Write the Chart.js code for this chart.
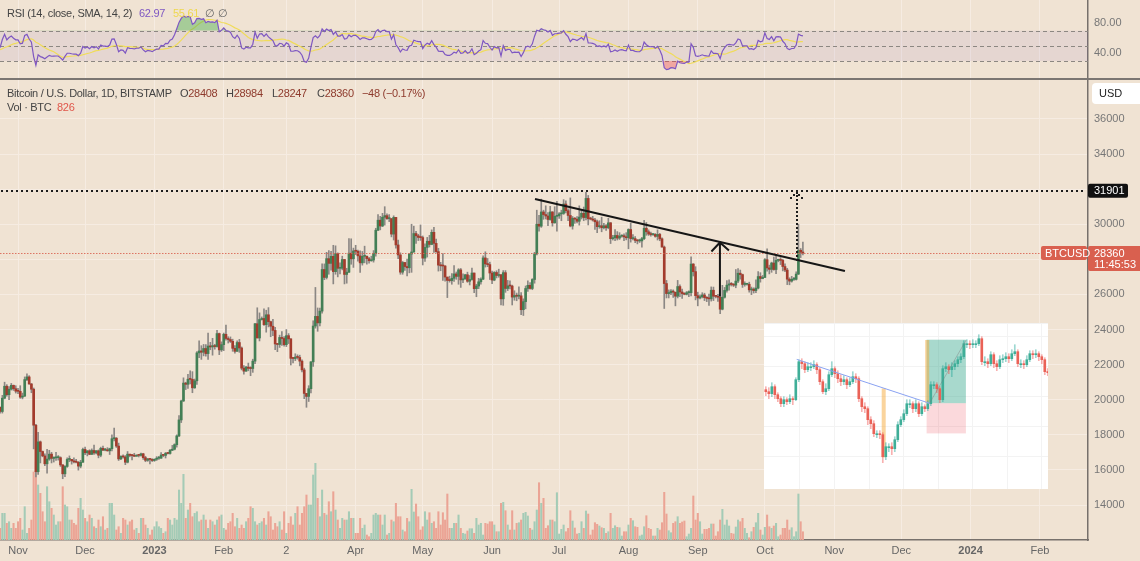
<!DOCTYPE html>
<html>
<head>
<meta charset="utf-8">
<script src="https://cdn.jsdelivr.net/npm/chart.js@4.4.1/dist/chart.umd.min.js"></script>
<style>
  html, body { margin: 0; padding: 0; background: #f0e3d3; }
  #wrap { position: relative; width: 1140px; height: 561px; overflow: hidden; background: #f0e3d3;
          font-family: "Liberation Sans", Arial, sans-serif; }
  canvas { position: absolute; left: 0; }
  #rsi { top: 0; }
  #main { top: 80px; }
  #inset { left: 764px; top: 323px; background: #fff; }
  #sep { position: absolute; left: 0; top: 78px; width: 1140px; height: 2px; background: #7b7672; }
  .lg { position: absolute; font-size: 11px; letter-spacing: -0.3px; color: #444; white-space: pre; line-height: 14px; }
</style>
</head>
<body>
<div id="wrap">
  <canvas id="rsi" width="1140" height="78"></canvas>
  <div id="sep"></div>
  <canvas id="main" width="1140" height="481"></canvas>
  <canvas id="inset" width="284" height="166"></canvas>

  <span class="lg" style="left:7px;top:6px">RSI (14, close, SMA, 14, 2)</span>
  <span class="lg" style="left:139px;top:6px;color:#7e57c2">62.97</span>
  <span class="lg" style="left:173px;top:6px;color:#eed84e">55.61</span>
  <span class="lg" style="left:205px;top:6px;color:#666">∅</span>
  <span class="lg" style="left:218px;top:6px;color:#666">∅</span>

  <span class="lg" style="left:7px;top:86px">Bitcoin / U.S. Dollar, 1D, BITSTAMP</span>
  <span class="lg" style="left:180px;top:86px"><span style="color:#444">O</span><span style="color:#8e3a2c">28408</span></span>
  <span class="lg" style="left:226px;top:86px"><span style="color:#444">H</span><span style="color:#8e3a2c">28984</span></span>
  <span class="lg" style="left:272px;top:86px"><span style="color:#444">L</span><span style="color:#8e3a2c">28247</span></span>
  <span class="lg" style="left:317px;top:86px"><span style="color:#444">C</span><span style="color:#8e3a2c">28360</span></span>
  <span class="lg" style="left:362px;top:86px;color:#8e3a2c">−48 (−0.17%)</span>
  <span class="lg" style="left:7px;top:100px">Vol · BTC</span>
  <span class="lg" style="left:57px;top:100px;color:#e0564a">826</span>
</div>

<script>
// ---- daily BTC/USD (Bitstamp), day 0 = 1 Nov 2022, first visible candle = 24 Oct 2022 ----
const firstDay = -8;

// closes before the visible window, only used to seed the RSI
const priorCloses = [20110, 19420, 19540, 18880, 18490, 19410, 19290, 18920, 18800, 19220, 19080, 19410, 19590, 19420,
  19310, 19050, 19630, 20340, 20160, 19960, 19530, 19420, 19440, 19130, 19060, 19160, 19380, 19180, 19070, 19270,
  19550, 19330, 19120, 19040, 19170, 19210, 19570];

const closes = [
  19330, 20090, 20770, 20290, 20600, 20820, 20630, 20490,
  20480, 20150, 20210, 21150, 21300, 20900, 20600, 18550, 15900, 17600, 17050, 16800, 16350, 16620, 16900, 16660, 16690, 16700, 16700, 16290, 15780, 16200, 16600, 16600, 16520, 16460, 16440, 16220, 16440, 17170,
  16980, 17090, 16890, 17110, 16970, 17090, 16840, 17230, 17130, 17130, 17090, 17210, 17780, 17810, 17360, 16630, 16780, 16740, 16440, 16900, 16830, 16820, 16780, 16840, 16830, 16920, 16700, 16550, 16630, 16600, 16540,
  16610, 16670, 16670, 16850, 16830, 16950, 16940, 17120, 17180, 17440, 17940, 18850, 19930, 20950, 20880, 21170, 21160, 20680, 21080, 22670, 22780, 22710, 22920, 22630, 23060, 23010, 23080, 23030, 23770, 22840, 23140,
  23730, 23490, 23430, 23330, 22930, 22760, 23260, 22950, 21800, 21630, 21860, 21790, 21780, 22200, 24330, 23520, 24570, 24630, 24280, 24840, 24450, 24190, 23950, 23180, 23150, 23550, 23490, 23140,
  23650, 23470, 22360, 22350, 22430, 22410, 22200, 21700, 20360, 20190, 20630, 22160, 24200, 24750, 24380, 25050, 27420, 26970, 28040, 27770, 28170, 27300, 28320, 27490, 27490, 27990, 27140, 27270, 28350, 28030, 28480,
  28460, 28200, 27800, 28170, 28170, 28040, 27920, 27960, 28330, 29660, 30230, 29900, 30400, 30490, 30320, 30320, 29440, 30390, 28820, 28250, 27270, 27820, 27590, 27520, 28300, 28420, 29470, 29340, 29250, 29240,
  28070, 28680, 29030, 28850, 29540, 28910, 28440, 27670, 27630, 27620, 26990, 26800, 26790, 26920, 27170, 27030, 27400, 26830, 26890, 27120, 26750, 26850, 27220, 26330, 26480, 26720, 26870, 28080, 27740, 27700, 27220,
  26820, 27250, 27080, 27120, 25750, 27240, 26340, 26490, 26480, 25850, 25940, 25900, 25920, 25130, 25590, 26340, 26520, 26340, 26850, 28310, 30000, 29890, 30700, 30550, 30470, 30270, 30700, 30080, 30450, 30480,
  30590, 30620, 31150, 30770, 30500, 29900, 30340, 30290, 30170, 30410, 30620, 30380, 31470, 30310, 30300, 30240, 30140, 29860, 29910, 29800, 29910, 29800, 30080, 29180, 29230, 29360, 29210, 29320, 29350, 29280, 29230,
  29700, 29180, 29180, 29080, 29050, 29050, 29180, 29770, 29570, 29440, 29410, 29420, 29310, 29420, 29170, 28700, 26620, 26050, 26090, 26190, 26130, 25900, 26450, 26140, 26050, 26010, 26100, 26100, 27730, 27300, 25930,
  25800, 25870, 25970, 25820, 25780, 25750, 26240, 25900, 25890, 25840, 25160, 25840, 26230, 26530, 26600, 26570, 26530, 26760, 27210, 27130, 26570, 26580, 26580, 26260, 26300, 26220, 26360, 27020, 26910, 26970,
  27980, 27510, 27430, 27790, 27420, 27940, 27970, 27940, 27590, 27390, 26870, 26760, 26860, 26860, 27160, 28520, 28408, 28360
];

const highs = [
  19600, 20250, 21000, 20860, 20750, 20930, 20840, 20800,
  20650, 20800, 20380, 21300, 21470, 21370, 20930, 20670, 18600, 18150, 17650, 17080, 16920, 17180, 17120, 17000, 16750, 17000, 16820, 16750, 16300, 16250, 16690, 16800, 16600, 16690, 16600, 16480, 16550, 17250,
  17310, 17100, 17150, 17200, 17420, 17110, 17140, 17300, 17360, 17230, 17270, 17240, 18000, 18380, 17850, 17530, 16800, 16860, 16820, 17050, 16900, 16870, 16950, 16870, 16860, 16960, 16950, 16780, 16660, 16640, 16640,
  16630, 16760, 16770, 16990, 16880, 17000, 16970, 17180, 17400, 17490, 18000, 19100, 19980, 21250, 21000, 21450, 21650, 21600, 21180, 22750, 23360, 23080, 23150, 23140, 23800, 23270, 23500, 23160, 23950, 23800, 23300,
  23800, 24250, 23590, 23580, 23450, 23080, 23360, 23440, 23010, 21940, 21900, 22090, 21880, 22310, 24350, 25240, 24950, 24720, 25180, 25100, 25250, 24480, 24580, 24120, 23210, 23680, 23880, 23600,
  24000, 23770, 23480, 22420, 22620, 22560, 22540, 22270, 21800, 20360, 20800, 22180, 24500, 26400, 25230, 25220, 27750, 27740, 28400, 28500, 28450, 28800, 28770, 28370, 27800, 28180, 28000, 27490, 29180, 29170, 28640,
  28800, 28530, 28480, 28450, 28750, 28200, 28110, 28180, 28500, 29770, 30550, 30450, 30620, 31000, 30590, 30550, 30320, 30480, 30400, 29100, 28370, 27880, 27830, 28020, 28330, 30000, 29890, 29600, 29430, 29960,
  29330, 28880, 29250, 29370, 29680, 29820, 29150, 28630, 27830, 28330, 27650, 26990, 27040, 27190, 27650, 27280, 27470, 27480, 27170, 27150, 27270, 27080, 27500, 27220, 26580, 26920, 26940, 28200, 28430, 28050, 27840,
  27330, 27300, 27350, 27440, 27140, 27360, 27360, 26800, 26780, 26530, 26210, 26080, 26440, 26100, 25750, 26480, 26780, 26680, 26900, 28400, 30800, 30510, 31430, 30800, 31050, 30660, 31020, 30720, 31000, 31300,
  30660, 30800, 31400, 31330, 30880, 31500, 30440, 30380, 30440, 31050, 30800, 30980, 31820, 31640, 30400, 30450, 30340, 30240, 30200, 30400, 30050, 29980, 30340, 30100, 29370, 29700, 29580, 29520, 29400, 29460, 29520,
  29740, 30060, 29410, 29300, 29120, 29150, 29250, 30220, 30100, 29680, 29550, 29470, 29470, 29680, 29480, 29220, 28760, 26800, 26260, 26270, 26260, 26130, 26800, 26550, 26300, 26100, 26170, 26210, 28140, 27760, 27580,
  26130, 25980, 26100, 26070, 25880, 26020, 26430, 26420, 25950, 26000, 25880, 26520, 26400, 26790, 26830, 26680, 26620, 27420, 27480, 27390, 27160, 26720, 26640, 26700, 26420, 26380, 26830, 27300, 27240, 27080,
  28050, 28600, 27670, 27840, 28130, 28270, 28010, 28100, 28000, 27750, 27490, 26950, 27030, 26970, 27290, 30000, 28620, 28984
];

const lows = [
  19240, 19240, 20050, 20200, 20000, 20550, 20530, 20380,
  20350, 20080, 20050, 20180, 21080, 20880, 20400, 17200, 15600, 15750, 16400, 16750, 16250, 15820, 16550, 16400, 16450, 16550, 16560, 16200, 15500, 15620, 16150, 16470, 16330, 16400, 16400, 15990, 16120, 16430,
  16870, 16800, 16870, 16880, 16880, 16910, 16690, 16750, 17100, 17090, 17070, 16880, 17080, 17660, 17280, 16540, 16580, 16670, 16300, 16400, 16750, 16570, 16760, 16780, 16740, 16790, 16600, 16470, 16490, 16340, 16480,
  16490, 16540, 16600, 16650, 16750, 16680, 16910, 16900, 17100, 17140, 17300, 17900, 18700, 19900, 20580, 20650, 20900, 20400, 20650, 20870, 22400, 22300, 22500, 22480, 22300, 22850, 22540, 22880, 23000, 22570, 22750,
  22800, 23400, 23230, 23260, 22760, 22660, 22750, 22700, 21700, 21460, 21620, 21650, 21370, 21560, 22050, 23520, 23350, 24540, 24230, 23850, 24150, 23590, 23650, 22850, 22740, 22980, 23100, 23050,
  23030, 23200, 21980, 22100, 22230, 22310, 21930, 21580, 20060, 19570, 19900, 20390, 21900, 24080, 23900, 24200, 24930, 26840, 26880, 27150, 27380, 26600, 27150, 27000, 27170, 27400, 26600, 26640, 27240, 27720, 27540,
  28270, 27890, 27260, 27670, 27800, 27720, 27780, 27890, 27840, 28180, 29630, 29680, 29860, 29950, 30270, 30150, 29280, 29100, 28630, 28040, 27150, 27150, 27370, 27050, 27230, 27260, 28400, 28900, 29070, 29080,
  27680, 27880, 28130, 28700, 28830, 28400, 28390, 27330, 27350, 26800, 26750, 25820, 26700, 26580, 26740, 26860, 26580, 26400, 26670, 26860, 26690, 26540, 26820, 26100, 25870, 26330, 26580, 26840, 27560, 27580, 26850,
  26620, 26780, 26940, 26980, 25400, 25380, 26120, 26220, 26320, 25400, 25670, 25640, 25750, 24850, 24800, 25180, 26170, 26300, 26270, 26640, 28250, 29600, 29820, 30280, 30300, 29920, 30230, 29890, 30060, 29600,
  30330, 30200, 30560, 30640, 30200, 29850, 29720, 30050, 30070, 29950, 30300, 30200, 30250, 29960, 30250, 30180, 29700, 29520, 29770, 29570, 29730, 29650, 29740, 28900, 29100, 29070, 29100, 29130, 29260, 29060, 29110,
  28600, 28980, 29100, 28950, 28880, 28960, 28700, 29120, 29370, 29360, 29320, 29360, 29260, 29100, 29060, 28700, 25200, 25800, 25800, 25980, 25830, 25350, 25800, 25880, 25780, 25980, 25970, 25880, 25920, 27050, 25690,
  25350, 25740, 25800, 25650, 25590, 25380, 25620, 25650, 25800, 25600, 24900, 25120, 25790, 26130, 26250, 26480, 26450, 26380, 26670, 26870, 26400, 26470, 26530, 26130, 25990, 26080, 26100, 26320, 26700, 26890,
  26950, 27330, 27170, 27260, 27380, 27180, 27860, 27700, 27340, 27300, 26560, 26550, 26700, 26800, 26820, 27130, 28100, 28247
];

const volumes = [
  1170, 2670, 2670, 1670, 1830, 1170, 1670, 1170,
  1830, 2170, 1000, 3330, 670, 1170, 2000, 6800, 7800, 5500,
  4670, 2830, 1830, 5330, 3830, 3170, 2500, 1500, 1830, 1830,
  5330, 3500, 3330, 2000, 2000, 1670, 1500, 3170, 4170, 3000,
  2170, 1830, 2500, 2170, 1330, 1170, 2000, 1330, 2330, 1000,
  1170, 3670, 3670, 2500, 1000, 1330, 670, 2170, 2000, 1500,
  1830, 2000, 1000, 1170, 670, 2170, 2170, 1500, 1170, 500,
  1000, 1330, 1830, 1330, 1170, 670, 830, 2170, 2000, 1500,
  2170, 2000, 5000, 3670, 6570, 2170, 3000, 3670, 2330, 2670,
  2830, 1830, 2000, 2500, 2000, 1170, 2000, 1830, 1500, 2000,
  2330, 2500, 1170, 1000, 1670, 1830, 2670, 1330, 2170, 1170,
  1500, 1170, 1830, 2170, 3330, 3170, 1830, 1500, 1670, 1830,
  2170, 1500, 2830, 2330, 1000, 1670, 1330, 1830, 1000, 2830,
  670, 1670, 2330, 1500, 2670, 3330, 1500, 2670, 3330, 4500,
  3500, 3500, 6500, 7670, 4170, 2330, 5000, 2670, 2500, 3830,
  2830, 4830, 3000, 2000, 1170, 2170, 2000, 2000, 2830, 2170,
  2170, 670, 670, 2170, 1170, 1500, 500, 330, 670, 2500, 2670, 2500,
  2500, 1500, 2500, 500, 670, 2000, 1830, 3670, 2330, 2330, 1000, 830, 2170, 1830, 5070, 2800,
  3600, 2330, 1000, 1330, 2830, 2000, 2730, 1670, 1830, 1170, 2830, 1500, 2730, 2000, 4600, 1170, 1170, 1670, 1670, 2500, 1170, 670, 600, 900,
  1130, 1130, 670, 2170, 1500, 1670, 500, 1670, 1600, 1830, 1830, 1500, 830, 830, 3670, 3770, 2930, 1500, 1000, 2930, 1000, 1670, 1730, 2000,
  2670, 2770, 2400, 1170, 1000, 1830, 3000, 5730, 3670, 4170, 1170, 1430, 2000, 2000, 1830, 4730, 600, 1070, 1500, 830, 1170, 2930, 1900, 1200,
  600, 670, 1830, 1170, 2900, 2600, 500, 1000, 1730, 1570, 1400, 1230, 1170, 670, 830, 2670, 1170, 1430, 1270, 1230, 400, 830, 830, 1500,
  2170, 1930, 1330, 1270, 400, 500, 1330, 2430, 1170, 1070, 400, 400, 1170, 1000, 1730, 4770, 2600, 930, 730, 1670, 1830, 2330, 1670, 1800,
  1900, 330, 600, 1170, 4400, 2000, 2670, 1830, 600, 1070, 1070, 1170, 1600, 1600, 400, 830, 2000, 3070, 1500, 2000, 1400, 670, 600, 1300,
  2000, 1830, 2170, 1170, 670, 230, 830, 1270, 1730, 2670, 1000, 500, 1270, 2500, 1330, 1170, 1400, 1670, 330, 500, 1170, 1170, 2000, 1000, 1230, 330, 830, 4600, 1830, 826
];

// axis ticks
const tickDays = [0, 30, 61, 92, 120, 151, 181, 212, 242, 273, 304, 334, 365, 395, 426, 457];
const tickLabels = ['Nov', 'Dec', '2023', 'Feb', '2', 'Apr', 'May', 'Jun', 'Jul', 'Aug', 'Sep', 'Oct', 'Nov', 'Dec', '2024', 'Feb'];
const priceTicks = [14000, 16000, 18000, 20000, 22000, 24000, 26000, 28000, 30000, 32000, 34000, 36000];
const rsiTicks = [40, 80];
const rsiLevels = [70, 50, 30];

// drawings on the price pane, as [day, price]
const targetLevel = 31901;
const trendLine = [[231.2, 31440], [369.8, 27340]];
const moveArrow = [[313.9, 25880], [313.9, 28960]];
const targetArrow = [[348.2, 27970], [348.2, 31800]];

// inset picture (unitless price levels)
const insetOpen0 = 97;
const insetCloses = [95, 93, 100, 92, 88, 83, 87, 85, 88, 87, 107, 125, 123, 117, 120, 120, 122, 117, 105, 95,
  98, 112, 118, 113, 108, 105, 107, 102, 105, 110, 108, 88, 80, 78, 67, 63, 53, 53, 52, 30,
  40, 40, 38, 47, 62, 67, 73, 83, 83, 78, 83, 73, 80, 78, 83, 102, 102, 98, 87, 118,
  120, 117, 120, 123, 127, 130, 143, 143, 142, 143, 143, 148, 125, 125, 123, 132, 123, 120, 127, 128,
  130, 128, 133, 135, 123, 123, 122, 127, 133, 132, 133, 130, 127, 115, 114];
const insetHighs = [100, 99, 104, 102, 94, 90, 90, 89, 92, 90, 109, 127, 128, 125, 124, 124, 126, 124, 119, 107,
  103, 115, 125, 120, 116, 112, 111, 109, 109, 115, 113, 110, 90, 84, 80, 70, 66, 56, 56, 54,
  44, 43, 44, 50, 65, 70, 77, 87, 87, 85, 87, 85, 84, 82, 86, 105, 105, 104, 100, 121,
  124, 122, 124, 126, 130, 133, 146, 147, 146, 147, 146, 152, 150, 130, 128, 135, 134, 126, 131, 132,
  134, 133, 137, 142, 137, 127, 126, 131, 136, 136, 137, 135, 132, 129, 118];
const insetLows = [91, 88, 90, 88, 85, 80, 80, 82, 83, 82, 86, 105, 118, 114, 115, 116, 118, 113, 102, 93,
  92, 96, 110, 109, 104, 101, 102, 98, 100, 103, 104, 85, 75, 74, 62, 58, 50, 49, 48, 24,
  27, 35, 32, 35, 45, 60, 65, 71, 79, 74, 75, 70, 71, 75, 76, 81, 98, 94, 84, 85,
  115, 113, 110, 117, 120, 124, 128, 139, 138, 139, 139, 141, 122, 121, 119, 121, 119, 116, 118, 124,
  125, 124, 126, 131, 120, 119, 118, 120, 125, 128, 129, 126, 123, 112, 111];
const insetGridX = [11.4, 23, 34.5, 46, 57.5, 69, 80.5, 92];
const insetTrend = [[10.3, 127.3], [54.7, 83.3]];
const insetMarks = [[39.3, 29.3, 98.3], [53.8, 83.3, 146.7]];
const insetTarget = [53.6, 66.7, 83.5, 147];
const insetStop = [53.6, 66.7, 53.3, 83.5];
const insetPath = [[54.5, 83], [66.8, 146.7]];

// ---- derived series ----
const opens = closes.map((c, i) => i === 0 ? priorCloses[priorCloses.length - 1] : closes[i - 1]);
const days = closes.map((c, i) => firstDay + i);

function rsi(src, n) {
  const out = src.map(() => null);
  let g = 0, l = 0;
  for (let i = 1; i <= n; i++) { const ch = src[i] - src[i - 1]; if (ch > 0) g += ch; else l -= ch; }
  g /= n; l /= n;
  out[n] = 100 - 100 / (1 + g / l);
  for (let i = n + 1; i < src.length; i++) {
    const ch = src[i] - src[i - 1];
    g = (g * (n - 1) + Math.max(ch, 0)) / n;
    l = (l * (n - 1) + Math.max(-ch, 0)) / n;
    out[i] = l === 0 ? 100 : 100 - 100 / (1 + g / l);
  }
  return out;
}
function sma(src, n) {
  return src.map((v, i) => {
    if (i < n - 1) return null;
    const w = src.slice(i - n + 1, i + 1);
    if (w.some(x => x === null)) return null;
    return w.reduce((a, b) => a + b, 0) / n;
  });
}
const rsiAll = rsi(priorCloses.concat(closes), 14);
const rsiMa = sma(rsiAll, 14);
const rsiVals = rsiAll.slice(priorCloses.length);
const rsiMaVals = rsiMa.slice(priorCloses.length);

// ---- style ----
const GRID = '#f6ece2';
const AXIS = '#77716c';
const UP = '#437f55', DOWN = '#a33b2c';
const VUP = '#a4cbb6', VDOWN = '#eba495';
const FONT = '"Liberation Sans", Arial, sans-serif';
const XMIN = -8.05, XMAX = 478.5;
Chart.defaults.font.family = FONT;
Chart.defaults.font.size = 11;

const isUp = i => closes[i] >= opens[i];
const xTicks = s => { s.ticks = tickDays.map(v => ({ value: v })); };
// keep the plot area flush with the canvas edges
const noPad = s => { s.paddingTop = 0; s.paddingBottom = 0; s.paddingLeft = 0; s.paddingRight = 0; };

// RSI pane
const rsiBand = {
  id: 'rsiBand',
  beforeDatasetsDraw(chart) {
    const { ctx, chartArea: a, scales: { y } } = chart;
    const top = y.getPixelForValue(rsiLevels[0]), bot = y.getPixelForValue(rsiLevels[2]);
    ctx.save();
    ctx.fillStyle = 'rgba(126,87,194,0.09)';
    ctx.fillRect(a.left, top, a.right - a.left, bot - top);
    ctx.strokeStyle = '#8c8782';
    ctx.lineWidth = 1;
    ctx.setLineDash([4, 3]);
    rsiLevels.forEach(v => {
      const py = Math.round(y.getPixelForValue(v)) + 0.5;
      ctx.beginPath(); ctx.moveTo(a.left, py); ctx.lineTo(a.right, py); ctx.stroke();
    });
    ctx.restore();
  }
};

new Chart(document.getElementById('rsi'), {
  type: 'line',
  data: {
    datasets: [
      { data: days.map((d, i) => ({ x: d, y: rsiVals[i] })), borderColor: '#7e57c2', borderWidth: 1.2, pointRadius: 0,
        fill: { target: { value: 70 }, above: 'rgba(76,175,80,0.45)', below: 'rgba(0,0,0,0)' }, order: 1 },
      { data: days.map((d, i) => ({ x: d, y: rsiVals[i] })), borderWidth: 0, borderColor: 'rgba(0,0,0,0)', pointRadius: 0,
        fill: { target: { value: 30 }, above: 'rgba(0,0,0,0)', below: 'rgba(242,54,69,0.35)' }, order: 3 },
      { data: days.map((d, i) => ({ x: d, y: rsiMaVals[i] })), borderColor: '#f0dc5a', borderWidth: 1.2, pointRadius: 0, fill: false, order: 2 }
    ]
  },
  options: {
    responsive: false, animation: false, devicePixelRatio: 1,
    layout: { padding: 0 },
    plugins: { legend: { display: false }, tooltip: { enabled: false } },
    scales: {
      x: { type: 'linear', min: XMIN, max: XMAX, afterBuildTicks: xTicks,
           ticks: { display: false }, grid: { color: GRID, drawTicks: false }, border: { display: false },
           afterFit: s => { s.height = 0; noPad(s); } },
      y: { position: 'right', min: 7.6, max: 110.5,
           afterBuildTicks: s => { s.ticks = rsiTicks.map(v => ({ value: v })); },
           ticks: { padding: 6, color: '#777', callback: v => v.toFixed(2) },
           grid: { display: false, drawTicks: false }, border: { color: AXIS, width: 1.5 },
           afterFit: s => { s.width = 52; noPad(s); } }
    }
  },
  plugins: [rsiBand]
});

// price pane drawings and axis labels
function dots(ctx, x0, y0, x1, y1, step, size) {
  const len = Math.hypot(x1 - x0, y1 - y0), n = Math.floor(len / step);
  for (let k = 0; k <= n; k++) {
    const t = k * step / len;
    ctx.fillRect(Math.round(x0 + (x1 - x0) * t - size / 2), Math.round(y0 + (y1 - y0) * t - size / 2), size, size);
  }
}
const drawings = {
  id: 'drawings',
  afterDatasetsDraw(chart) {
    const { ctx, chartArea: a, scales: { x, y } } = chart;
    const P = p => [x.getPixelForValue(p[0]), y.getPixelForValue(p[1])];
    ctx.save();
    // last price line
    const ly = Math.round(y.getPixelForValue(closes[closes.length - 1])) + 0.5;
    ctx.fillStyle = 'rgba(217,96,79,0.85)';
    for (let px = a.left; px < a.right - 47; px += 3) ctx.fillRect(px, ly - 0.5, 1.5, 1);
    // target level
    ctx.fillStyle = '#1c1c1c';
    const ty = y.getPixelForValue(targetLevel);
    dots(ctx, a.left + 2, ty, a.right - 2, ty, 5, 2);
    // trend line
    const [t0, t1] = [P(trendLine[0]), P(trendLine[1])];
    ctx.strokeStyle = '#161616'; ctx.lineWidth = 2;
    ctx.beginPath(); ctx.moveTo(t0[0], t0[1]); ctx.lineTo(t1[0], t1[1]); ctx.stroke();
    // measured move arrow
    const [m0, m1] = [P(moveArrow[0]), P(moveArrow[1])];
    ctx.beginPath(); ctx.moveTo(m0[0], m0[1]); ctx.lineTo(m1[0], m1[1]);
    ctx.moveTo(m1[0] - 8.5, m1[1] + 9); ctx.lineTo(m1[0], m1[1]); ctx.lineTo(m1[0] + 9, m1[1] + 8); ctx.stroke();
    // projected target arrow (dotted)
    const [d0, d1] = [P(targetArrow[0]), P(targetArrow[1])];
    dots(ctx, d0[0], d0[1], d1[0], d1[1], 4, 2);
    dots(ctx, d1[0], d1[1], d1[0] - 7, d1[1] + 7, 4, 2);
    dots(ctx, d1[0], d1[1], d1[0] + 8, d1[1] + 8, 4, 2);
    ctx.restore();
  },
  afterDraw(chart) {
    const { ctx, chartArea: a, scales: { y } } = chart;
    ctx.save();
    ctx.font = '11px ' + FONT;
    ctx.textBaseline = 'middle';
    // currency button
    ctx.fillStyle = '#ffffff';
    ctx.beginPath(); ctx.roundRect(a.right + 4, 3, 60, 21, 4); ctx.fill();
    ctx.fillStyle = '#222'; ctx.fillText('USD', a.right + 11, 14);
    // target label
    const ty = y.getPixelForValue(targetLevel);
    ctx.fillStyle = '#111';
    ctx.beginPath(); ctx.roundRect(a.right, ty - 7, 40, 14, 2); ctx.fill();
    ctx.fillStyle = '#fff'; ctx.fillText(String(targetLevel), a.right + 6, ty + 0.5);
    // last price labels
    const last = closes[closes.length - 1];
    const ly = y.getPixelForValue(last);
    ctx.fillStyle = '#d9604f';
    ctx.beginPath(); ctx.roundRect(a.right - 47, ly - 7, 46, 14, 2); ctx.fill();
    ctx.beginPath(); ctx.roundRect(a.right, ly - 7, 56, 25, 2); ctx.fill();
    ctx.fillStyle = '#fff';
    ctx.fillText('BTCUSD', a.right - 43, ly + 0.5);
    ctx.fillText(String(last), a.right + 6, ly + 0.5);
    ctx.fillText('11:45:53', a.right + 6, ly + 12);
    ctx.restore();
  }
};

new Chart(document.getElementById('main'), {
  type: 'bar',
  data: {
    datasets: [
      { data: days.map((d, i) => ({ x: d, y: volumes[i] })), yAxisID: 'yv', grouped: false, order: 5,
        barThickness: 1.4, backgroundColor: c => isUp(c.dataIndex) ? VUP : VDOWN },
      { data: days.map((d, i) => ({ x: d, y: [lows[i], highs[i]] })), grouped: false, order: 3,
        barThickness: 1, backgroundColor: '#8b8784' },
      { data: days.map((d, i) => ({ x: d, y: [opens[i], closes[i]] })), grouped: false, order: 2,
        barThickness: 2, minBarLength: 1, backgroundColor: c => isUp(c.dataIndex) ? UP : DOWN }
    ]
  },
  options: {
    responsive: false, animation: false, devicePixelRatio: 1,
    layout: { padding: 0 },
    plugins: { legend: { display: false }, tooltip: { enabled: false } },
    scales: {
      x: { type: 'linear', min: XMIN, max: XMAX, offset: false, afterBuildTicks: xTicks,
           ticks: { autoSkip: false, maxRotation: 0, padding: 4, color: '#666',
                    font: c => ({ size: 11, weight: /^20/.test(tickLabels[c.index] || '') ? 'bold' : 'normal' }),
                    callback: (v, i) => tickLabels[i] },
           grid: { color: GRID, drawTicks: false, offset: false }, border: { color: AXIS, width: 1.5 },
           afterFit: s => { s.height = 21; noPad(s); } },
      y: { position: 'right', min: 12009, max: 38218,
           afterBuildTicks: s => { s.ticks = priceTicks.map(v => ({ value: v })); },
           ticks: { padding: 6, color: '#777', callback: v => String(v) },
           grid: { color: GRID, drawTicks: false }, border: { color: AXIS, width: 1.5 },
           afterFit: s => { s.width = 52; noPad(s); } },
      yv: { display: false, min: 0, max: 46000 }
    }
  },
  plugins: [drawings]
});

// inset picture
const insetOpens = insetCloses.map((c, i) => i === 0 ? insetOpen0 : insetCloses[i - 1]);
const insetIdx = insetCloses.map((c, i) => i);
const insetUp = i => insetCloses[i] >= insetOpens[i];
const insetShapes = {
  id: 'insetShapes',
  beforeDatasetsDraw(chart) {
    const { ctx, scales: { x, y } } = chart;
    ctx.save();
    const box = (b, color) => {
      const x0 = x.getPixelForValue(b[0]), x1 = x.getPixelForValue(b[1]);
      const y0 = y.getPixelForValue(b[3]), y1 = y.getPixelForValue(b[2]);
      ctx.fillStyle = color; ctx.fillRect(x0, y0, x1 - x0, y1 - y0);
    };
    box(insetTarget, 'rgba(38,160,130,0.40)');
    box(insetStop, 'rgba(235,80,95,0.22)');
    ctx.fillStyle = 'rgba(245,170,60,0.5)';
    insetMarks.forEach(m => {
      const px = x.getPixelForValue(m[0]);
      const y0 = y.getPixelForValue(m[2]), y1 = y.getPixelForValue(m[1]);
      ctx.fillRect(px - 2, y0, 4, y1 - y0);
    });
    ctx.restore();
  },
  afterDatasetsDraw(chart) {
    const { ctx, scales: { x, y } } = chart;
    ctx.save();
    ctx.lineWidth = 1;
    ctx.strokeStyle = 'rgba(120,120,120,0.4)';
    ctx.beginPath();
    ctx.moveTo(x.getPixelForValue(insetPath[0][0]), y.getPixelForValue(insetPath[0][1]));
    ctx.lineTo(x.getPixelForValue(insetPath[1][0]), y.getPixelForValue(insetPath[1][1]));
    ctx.stroke();
    ctx.strokeStyle = '#8aa2f2';
    ctx.beginPath();
    ctx.moveTo(x.getPixelForValue(insetTrend[0][0]), y.getPixelForValue(insetTrend[0][1]));
    ctx.lineTo(x.getPixelForValue(insetTrend[1][0]), y.getPixelForValue(insetTrend[1][1]));
    ctx.stroke();
    ctx.restore();
  }
};
new Chart(document.getElementById('inset'), {
  type: 'bar',
  data: {
    datasets: [
      { data: insetIdx.map(i => ({ x: i, y: [insetLows[i], insetHighs[i]] })), grouped: false, order: 3,
        barThickness: 1, backgroundColor: c => insetUp(c.dataIndex) ? 'rgba(38,166,154,0.45)' : 'rgba(239,83,80,0.45)' },
      { data: insetIdx.map(i => ({ x: i, y: [insetOpens[i], insetCloses[i]] })), grouped: false, order: 2,
        barThickness: 2, minBarLength: 1, backgroundColor: c => insetUp(c.dataIndex) ? '#3fae98' : '#ea6257' }
    ]
  },
  options: {
    responsive: false, animation: false, devicePixelRatio: 1,
    layout: { padding: 0 },
    plugins: { legend: { display: false }, tooltip: { enabled: false } },
    scales: {
      x: { type: 'linear', min: -0.6, max: 94.07, offset: false,
           afterBuildTicks: s => { s.ticks = insetGridX.map(v => ({ value: v })); },
           ticks: { display: false }, grid: { color: '#f3f3f3', drawTicks: false, offset: false }, border: { display: false },
           afterFit: s => { s.height = 0; noPad(s); } },
      y: { min: -2.3, max: 163.7, ticks: { display: false, stepSize: 30 },
           grid: { color: '#f3f3f3', drawTicks: false }, border: { display: false },
           afterFit: s => { s.width = 0; noPad(s); } }
    }
  },
  plugins: [insetShapes]
});
</script>
</body>
</html>
